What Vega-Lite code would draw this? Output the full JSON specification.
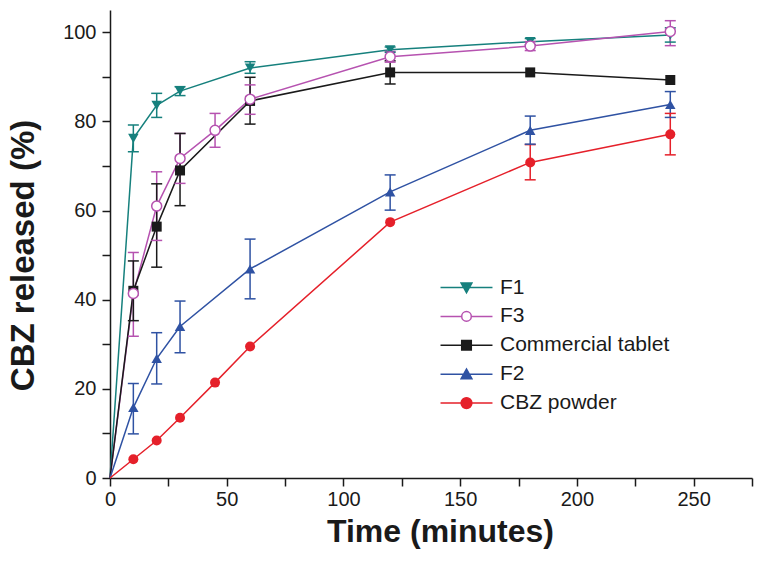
{
  "$schema": "https://vega.github.io/schema/vega-lite/v6.json",
  "width": 642,
  "height": 468,
  "autosize": "none",
  "padding": {"left": 110, "top": 10, "right": 10, "bottom": 83},
  "background": "white",
  "config": {
    "view": {"stroke": null},
    "font": "Liberation Sans",
    "axis": {
      "grid": false,
      "domainColor": "#1a1a1a",
      "domainWidth": 1.5,
      "tickColor": "#1a1a1a",
      "tickWidth": 1.5,
      "tickSize": 8,
      "labelFont": "Liberation Sans",
      "labelFontSize": 20,
      "labelColor": "#1a1a1a",
      "titleFont": "Liberation Sans",
      "titleFontWeight": "bold",
      "titleColor": "#1a1a1a"
    }
  },
  "datasets": {
    "pts": [
      {"s": "F1", "t": 0, "v": 0, "lo": 0, "hi": 0},
      {"s": "F1", "t": 10, "v": 76.2, "lo": 73.2, "hi": 79.2},
      {"s": "F1", "t": 20, "v": 83.6, "lo": 80.9, "hi": 86.3},
      {"s": "F1", "t": 30, "v": 86.8, "lo": 85.8, "hi": 87.8},
      {"s": "F1", "t": 60, "v": 92.0, "lo": 90.8, "hi": 93.4},
      {"s": "F1", "t": 120, "v": 96.1, "lo": 95.5, "hi": 96.7},
      {"s": "F1", "t": 180, "v": 97.9, "lo": 97.2, "hi": 98.6},
      {"s": "F1", "t": 240, "v": 99.4, "lo": 97.8, "hi": 101.0},
      {"s": "F3", "t": 0, "v": 0, "lo": 0, "hi": 0},
      {"s": "F3", "t": 10, "v": 41.4, "lo": 31.8, "hi": 50.6},
      {"s": "F3", "t": 20, "v": 61.0, "lo": 53.3, "hi": 68.7},
      {"s": "F3", "t": 30, "v": 71.7, "lo": 66.1, "hi": 77.3},
      {"s": "F3", "t": 45, "v": 78.0, "lo": 74.2, "hi": 81.8},
      {"s": "F3", "t": 60, "v": 85.0, "lo": 81.6, "hi": 88.2},
      {"s": "F3", "t": 120, "v": 94.5, "lo": 93.3, "hi": 95.7},
      {"s": "F3", "t": 180, "v": 96.9, "lo": 95.9, "hi": 97.9},
      {"s": "F3", "t": 240, "v": 100.2, "lo": 97.0, "hi": 102.6},
      {"s": "Commercial tablet", "t": 0, "v": 0, "lo": 0, "hi": 0},
      {"s": "Commercial tablet", "t": 10, "v": 42.0, "lo": 35.3, "hi": 48.7},
      {"s": "Commercial tablet", "t": 20, "v": 56.4, "lo": 47.3, "hi": 66.0},
      {"s": "Commercial tablet", "t": 30, "v": 69.0, "lo": 61.1, "hi": 77.3},
      {"s": "Commercial tablet", "t": 60, "v": 84.6, "lo": 79.4, "hi": 89.9},
      {"s": "Commercial tablet", "t": 120, "v": 91.0, "lo": 88.4, "hi": 93.6},
      {"s": "Commercial tablet", "t": 180, "v": 91.0, "lo": 91.0, "hi": 91.0},
      {"s": "Commercial tablet", "t": 240, "v": 89.3, "lo": 89.3, "hi": 89.3},
      {"s": "F2", "t": 0, "v": 0, "lo": 0, "hi": 0},
      {"s": "F2", "t": 10, "v": 15.8, "lo": 9.9, "hi": 21.2},
      {"s": "F2", "t": 20, "v": 26.8, "lo": 21.1, "hi": 32.6},
      {"s": "F2", "t": 30, "v": 34.0, "lo": 28.1, "hi": 39.7},
      {"s": "F2", "t": 60, "v": 46.9, "lo": 40.2, "hi": 53.6},
      {"s": "F2", "t": 120, "v": 64.2, "lo": 60.1, "hi": 68.0},
      {"s": "F2", "t": 180, "v": 78.0, "lo": 74.9, "hi": 81.2},
      {"s": "F2", "t": 240, "v": 83.8, "lo": 80.9, "hi": 86.7},
      {"s": "CBZ powder", "t": 0, "v": 0, "lo": 0, "hi": 0},
      {"s": "CBZ powder", "t": 10, "v": 4.2, "lo": 4.2, "hi": 4.2},
      {"s": "CBZ powder", "t": 20, "v": 8.4, "lo": 8.4, "hi": 8.4},
      {"s": "CBZ powder", "t": 30, "v": 13.5, "lo": 13.5, "hi": 13.5},
      {"s": "CBZ powder", "t": 45, "v": 21.4, "lo": 21.4, "hi": 21.4},
      {"s": "CBZ powder", "t": 60, "v": 29.5, "lo": 29.5, "hi": 29.5},
      {"s": "CBZ powder", "t": 120, "v": 57.4, "lo": 57.4, "hi": 57.4},
      {"s": "CBZ powder", "t": 180, "v": 70.8, "lo": 66.9, "hi": 74.8},
      {"s": "CBZ powder", "t": 240, "v": 77.1, "lo": 72.5, "hi": 81.8}
    ]
  },
  "data": {"name": "pts"},
  "encoding": {
    "x": {
      "field": "t", "type": "quantitative",
      "scale": {"domain": [0, 275], "nice": false, "zero": false},
      "axis": {
        "title": "Time (minutes)",
        "titleFontSize": 32,
        "titlePadding": 7,
        "titleX": 330,
        "values": [0, 25, 50, 75, 100, 125, 150, 175, 200, 225, 250, 275],
        "labelExpr": "datum.value % 50 === 0 ? datum.label : ''",
        "labelPadding": 3,
        "labelFlush": false
      }
    },
    "y": {
      "field": "v", "type": "quantitative",
      "scale": {"domain": [0, 105], "nice": false},
      "axis": {
        "title": "CBZ released (%)",
        "titleFontSize": 33,
        "titlePadding": 22,
        "titleY": 245,
        "values": [0, 10, 20, 30, 40, 50, 60, 70, 80, 90, 100],
        "labelExpr": "datum.value % 20 === 0 ? datum.label : ''",
        "labelPadding": 6,
        "labelFlush": false
      }
    }
  },
  "layer": [
    {
      "mark": {"type": "line", "strokeWidth": 1.5},
      "encoding": {
        "color": {"field": "s", "type": "nominal", "legend": null,
          "scale": {"domain": ["CBZ powder", "F2", "Commercial tablet", "F3", "F1"],
                    "range": ["#e5202a", "#2f52a3", "#1a1a1a", "#b652b0", "#16807d"]}}
      }
    },
    {
      "transform": [{"filter": "datum.hi > datum.lo"}],
      "mark": {"type": "rule", "strokeWidth": 1.5},
      "encoding": {
        "y": {"field": "lo", "type": "quantitative"},
        "y2": {"field": "hi"},
        "color": {"field": "s", "type": "nominal", "legend": null}
      }
    },
    {
      "transform": [{"filter": "datum.hi > datum.lo"}],
      "mark": {"type": "tick", "orient": "horizontal", "size": 11, "thickness": 1.5, "opacity": 1},
      "encoding": {
        "y": {"field": "hi", "type": "quantitative"},
        "color": {"field": "s", "type": "nominal", "legend": null}
      }
    },
    {
      "transform": [{"filter": "datum.hi > datum.lo"}],
      "mark": {"type": "tick", "orient": "horizontal", "size": 11, "thickness": 1.5, "opacity": 1},
      "encoding": {
        "y": {"field": "lo", "type": "quantitative"},
        "color": {"field": "s", "type": "nominal", "legend": null}
      }
    },
    {
      "transform": [{"filter": "datum.s === 'CBZ powder' && datum.t > 0"}],
      "mark": {"type": "point", "shape": "circle", "filled": true, "size": 100, "opacity": 1},
      "encoding": {"color": {"field": "s", "type": "nominal", "legend": null}}
    },
    {
      "transform": [{"filter": "datum.s === 'F2' && datum.t > 0"}],
      "mark": {"type": "point", "shape": "triangle-up", "filled": true, "size": 110, "opacity": 1},
      "encoding": {"color": {"field": "s", "type": "nominal", "legend": null}}
    },
    {
      "transform": [{"filter": "datum.s === 'Commercial tablet' && datum.t > 0"}],
      "mark": {"type": "point", "shape": "square", "filled": true, "size": 100, "opacity": 1},
      "encoding": {"color": {"field": "s", "type": "nominal", "legend": null}}
    },
    {
      "transform": [{"filter": "datum.s === 'F1' && datum.t > 0"}],
      "mark": {"type": "point", "shape": "triangle-down", "filled": true, "size": 110, "opacity": 1},
      "encoding": {"color": {"field": "s", "type": "nominal", "legend": null}}
    },
    {
      "transform": [{"filter": "datum.s === 'F3' && datum.t > 0"}],
      "mark": {"type": "point", "shape": "circle", "filled": false, "fill": "white", "fillOpacity": 1, "strokeWidth": 1.5, "size": 100, "opacity": 1},
      "encoding": {"color": {"field": "s", "type": "nominal", "legend": null}}
    },
    {
      "transform": [{"filter": "datum.t === 240"}],
      "mark": {"type": "point", "opacity": 1, "size": 0},
      "encoding": {
        "shape": {"field": "s", "type": "nominal",
          "scale": {"domain": ["F1", "F3", "Commercial tablet", "F2", "CBZ powder"],
                    "range": [
                      "M-4.33,0H4.33M-0.9,-0.75L0.9,-0.75L0,0.85Z",
                      "M-4.33,0H-0.8M0.8,0H4.33M-0.8,0A0.8,0.8,0,1,0,0.8,0A0.8,0.8,0,1,0,-0.8,0Z",
                      "M-4.33,0H4.33M-0.8,-0.8H0.8V0.8H-0.8Z",
                      "M-4.33,0H4.33M-0.9,0.75L0.9,0.75L0,-0.85Z",
                      "M-4.33,0H4.33M-0.9,0A0.9,0.9,0,1,0,0.9,0A0.9,0.9,0,1,0,-0.9,0Z"
                    ]},
          "legend": {
            "title": null,
            "orient": "none",
            "legendX": 346,
            "legendY": 267,
            "padding": 0,
            "labelFontSize": 21,
            "labelFont": "Liberation Sans",
            "labelColor": "#1a1a1a",
            "labelOffset": 23,
            "labelLimit": 300,
            "rowPadding": 6.9,
            "symbolSize": 144,
            "symbolStrokeWidth": 1.5,
            "symbolOpacity": 1
          }
        },
        "fill": {"field": "s", "type": "nominal",
          "scale": {"domain": ["F1", "F3", "Commercial tablet", "F2", "CBZ powder"],
                    "range": ["#16807d", "#ffffff", "#1a1a1a", "#2f52a3", "#e5202a"]}},
        "stroke": {"field": "s", "type": "nominal",
          "scale": {"domain": ["F1", "F3", "Commercial tablet", "F2", "CBZ powder"],
                    "range": ["#16807d", "#b652b0", "#1a1a1a", "#2f52a3", "#e5202a"]}}
      }
    }
  ]
}
